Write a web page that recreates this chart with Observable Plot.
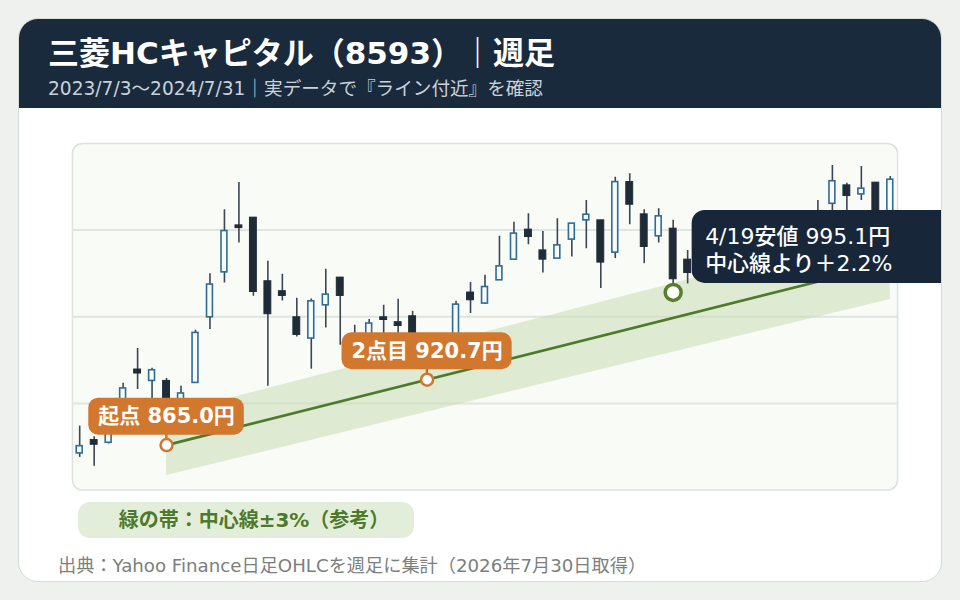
<!DOCTYPE html>
<html lang="ja">
<head>
<meta charset="utf-8">
<script src="https://cdn.jsdelivr.net/npm/d3@7"></script>
<script src="https://cdn.jsdelivr.net/npm/@observablehq/plot@0.6"></script>
<style>
  html, body { margin: 0; padding: 0; }
  body { width: 960px; height: 600px; background: #eef1ee; position: relative; overflow: hidden;
         font-family: "DejaVu Sans", "Noto Sans CJK JP", sans-serif; }
  #card { position: absolute; left: 18px; top: 18px; width: 924px; height: 564px; box-sizing: border-box;
          background: #fff; border: 1px solid #d5dbd6; border-radius: 20px; overflow: hidden; }
  #header { position: absolute; left: 0; top: 0; width: 100%; height: 89px; background: #1a2a3d; }
  #title { position: absolute; left: 29px; top: 16px; font-size: 31px; font-weight: 700; line-height: 36px; color: #fff; white-space: nowrap; }
  #subtitle { position: absolute; left: 29px; top: 60px; font-size: 18.6px; line-height: 20px; color: #c9d1da; white-space: nowrap; }
  #chart { position: absolute; left: 0; top: 89px; }
  #legend { position: absolute; left: 59px; top: 483px; width: 336px; height: 36px; border-radius: 12px; box-sizing: border-box; padding-left: 16px;
            background: #e3eeda; color: #4d7a2a; font-weight: 700; font-size: 20px; line-height: 36px; text-align: center; }
  #caption { position: absolute; left: 39px; top: 537px; font-size: 18.2px; line-height: 20px; color: #7b807d; white-space: nowrap; }
</style>
</head>
<body>
<div id="card">
  <div id="header">
    <div id="title">三菱HCキャピタル（8593）｜週足</div>
    <div id="subtitle">2023/7/3〜2024/7/31｜実データで『ライン付近』を確認</div>
  </div>
  <div id="chart"></div>
  <div id="legend">緑の帯：中心線±3%（参考）</div>
  <div id="caption">出典：Yahoo Finance日足OHLCを週足に集計（2026年7月30日取得）</div>
</div>
<script>
// ---- Data (weekly OHLC) ----
const weeks = [
  "2023-07-03","2023-07-10","2023-07-17","2023-07-24","2023-07-31","2023-08-07","2023-08-14","2023-08-21","2023-08-28","2023-09-04",
  "2023-09-11","2023-09-18","2023-09-25","2023-10-02","2023-10-09","2023-10-16","2023-10-23","2023-10-30","2023-11-06","2023-11-13",
  "2023-11-20","2023-11-27","2023-12-04","2023-12-11","2023-12-18","2023-12-25","2024-01-01","2024-01-08","2024-01-15","2024-01-22",
  "2024-01-29","2024-02-05","2024-02-12","2024-02-19","2024-02-26","2024-03-04","2024-03-11","2024-03-18","2024-03-25","2024-04-01",
  "2024-04-08","2024-04-15","2024-04-22","2024-04-29","2024-05-06","2024-05-13","2024-05-20","2024-05-27","2024-06-03","2024-06-10",
  "2024-06-17","2024-06-24","2024-07-01","2024-07-08","2024-07-15","2024-07-22","2024-07-29"
];
const opens = [
  857.9, 869.3, 867.0, 890.5, 929.4, 919.7, 919.7, 901.6, 918.0, 973.9,
  1012.2, 1052.2, 1058.8, 1004.6, 996.1, 973.9, 955.8, 984.1, 1007.7, 957.8,
  952.7, 973.9, 969.7, 974.8, 952.7, 939.0, 950.1, 995.0, 985.6, 1005.4,
  1023.0, 1048.6, 1030.9, 1023.9, 1040.1, 1056.5, 1056.5, 1029.0, 1089.1, 1061.6,
  1042.9, 1049.4, 1023.0, 1012.0, 1025.0, 1018.0, 1032.0, 1028.0, 1040.0, 1035.0,
  1046.0, 1042.0, 1070.6, 1086.3, 1078.6, 1088.6, 1052.0
];
const highs = [
  881.2, 872.1, 886.3, 917.8, 947.3, 930.5, 921.8, 915.2, 962.9, 1011.1,
  1065.6, 1088.8, 1058.8, 1021.6, 1010.5, 990.1, 989.5, 1014.8, 1007.7, 967.1,
  972.0, 984.1, 989.2, 979.0, 957.8, 957.8, 987.5, 1003.5, 1009.7, 1042.9,
  1054.8, 1062.2, 1046.9, 1057.9, 1053.9, 1073.5, 1056.5, 1093.3, 1096.2, 1065.6,
  1066.4, 1056.5, 1030.9, 1030.0, 1034.0, 1040.0, 1045.0, 1048.0, 1050.0, 1052.0,
  1054.0, 1073.5, 1103.3, 1088.0, 1102.4, 1088.6, 1093.9
];
const lows = [
  854.5, 847.1, 866.0, 886.3, 912.4, 903.3, 865.0, 896.5, 917.8, 963.5,
  1003.1, 1037.2, 991.8, 915.2, 987.8, 957.2, 929.7, 964.8, 950.1, 944.1,
  947.5, 957.8, 957.8, 949.2, 920.7, 933.1, 947.5, 977.1, 984.7, 1005.4,
  1022.4, 1035.8, 1011.6, 1023.9, 1025.2, 1032.4, 998.4, 1023.9, 1052.8, 1019.6,
  1037.2, 995.1, 1002.3, 1006.0, 1012.0, 1014.0, 1020.0, 1022.0, 1028.0, 1030.0,
  1036.0, 1038.0, 1060.0, 1062.0, 1073.5, 1045.0, 1048.0
];
const closes = [
  864.1, 865.3, 879.5, 913.3, 926.0, 928.8, 893.1, 909.0, 960.6, 1001.8,
  1047.4, 1049.9, 995.5, 976.5, 992.1, 958.9, 987.5, 993.2, 992.1, 952.7,
  968.6, 971.6, 966.5, 954.4, 937.3, 954.4, 984.7, 988.4, 999.7, 1017.3,
  1045.2, 1042.3, 1023.0, 1035.2, 1053.7, 1061.3, 1020.5, 1089.1, 1069.8, 1033.8,
  1059.9, 1006.3, 1011.6, 1025.0, 1018.0, 1032.0, 1028.0, 1040.0, 1035.0, 1046.0,
  1042.0, 1055.0, 1089.8, 1077.2, 1083.5, 1050.0, 1091.1
];

// Line anchors (two touch points) and the tested point
const anchorWeeks = ["2023-08-14", "2023-12-18"];
const anchorPrices = [865.0, 920.7];
const anchorLabels = ["起点 865.0円", "2点目 920.7円"];
const testWeek = "2024-04-15";
const testPrice = 995.1;
const testLines = ["4/19安値 995.1円", "中心線より＋2.2%"];
const bandPct = 0.03;
const lineEndWeek = "2024-07-29";

// Price-axis domain and (unlabelled) grid lines
const yDomain = [826.7, 1122.0];
const gridTicks = [900.5, 974.3, 1048.2];

// ---- Build tables ----
const candles = weeks.map((week, i) => ({week, open: opens[i], high: highs[i], low: lows[i], close: closes[i]}));
const upCandles = candles.filter(d => d.close >= d.open);
const downCandles = candles.filter(d => d.close < d.open);

const i0 = weeks.indexOf(anchorWeeks[0]);
const i1 = weeks.indexOf(anchorWeeks[1]);
const iEnd = weeks.indexOf(lineEndWeek);
const slope = (anchorPrices[1] - anchorPrices[0]) / (i1 - i0);
const centerAt = i => anchorPrices[0] + slope * (i - i0);
const trend = [i0, iEnd].map(i => ({week: weeks[i], center: centerAt(i), lo: centerAt(i) * (1 - bandPct), hi: centerAt(i) * (1 + bandPct)}));
const anchors = anchorWeeks.map((week, k) => ({week, price: anchorPrices[k], label: anchorLabels[k]}));
const testPoint = [{week: testWeek, price: testPrice}];

// ---- Styles ----
const FONT = "'DejaVu Sans', 'Noto Sans CJK JP', sans-serif";
const LABEL_SIZE = 21;
const TIP_SIZE = 22;
const ORANGE = "#d2772e";
const NAVY = "#172739";
const GREEN = "#4e7a2a";
const UP = "#2f6b98";
const DOWN = "#1f2c38";
const WICK = "#3a4652";
const PLOTBG = "#f9fbf6";

function textWidth(str, font) {
  const c = textWidth.c || (textWidth.c = document.createElement("canvas").getContext("2d"));
  c.font = font;
  return c.measureText(str).width;
}

function annotationBoxes(index, scales) {
  const xs = scales.x, ys = scales.y;
  const X = w => xs(w) + xs.bandwidth() / 2;
  const g = d3.create("svg:g");
  for (const a of anchors) {
    const cx = X(a.week), cy = ys(a.price);
    const w = textWidth(a.label, `700 ${LABEL_SIZE}px ${FONT}`) + 19;
    g.append("line").attr("x1", cx).attr("x2", cx).attr("y1", cy - 11).attr("y2", cy - 5)
      .attr("stroke", ORANGE).attr("stroke-width", 2);
    g.append("rect").attr("x", cx - w / 2).attr("y", cy - 47).attr("width", w).attr("height", 37)
      .attr("rx", 10).attr("fill", ORANGE);
  }
  const tx = X(testWeek), ty = ys(testPrice);
  g.append("rect").attr("x", tx + 19).attr("y", ty - 82).attr("width", 320).attr("height", 73)
    .attr("rx", 13).attr("fill", NAVY);
  return g.node();
}

const chart = Plot.plot({
  width: 923,
  height: 390,
  marginLeft: 53,
  marginRight: 44,
  marginTop: 35,
  marginBottom: 8,
  style: {fontFamily: FONT, background: "transparent", overflow: "visible"},
  x: {type: "band", domain: weeks, padding: 0, round: false, axis: null},
  y: {domain: yDomain, axis: null},
  marks: [
    Plot.frame({fill: PLOTBG, stroke: "#dce2dd", strokeWidth: 1.5, rx: 10}),
    Plot.ruleY(gridTicks, {stroke: "#dfe5e1", strokeWidth: 2}),
    Plot.areaY(trend, {x: "week", y1: "lo", y2: "hi", fill: "#c3dbad", fillOpacity: 0.5}),
    Plot.line(trend, {x: "week", y: "center", stroke: GREEN, strokeWidth: 2.6}),
    Plot.ruleX(candles, {x: "week", y1: "low", y2: "high", stroke: WICK, strokeWidth: 1.6}),
    Plot.barY(upCandles, {x: "week", y1: "open", y2: "close", fill: PLOTBG, stroke: UP, strokeWidth: 1.6, insetLeft: 4.3, insetRight: 4.3}),
    Plot.barY(downCandles, {x: "week", y1: "open", y2: "close", fill: DOWN, stroke: DOWN, strokeWidth: 1, insetLeft: 3.8, insetRight: 3.8}),
    annotationBoxes,
    Plot.text(anchors, {x: "week", y: "price", text: "label", dy: -28.5, fill: "#fff", fontSize: LABEL_SIZE, fontWeight: 700}),
    Plot.text(testPoint, {x: "week", y: "price", text: () => testLines[0], dx: 32, dy: -56, textAnchor: "start", fill: "#fff", fontSize: TIP_SIZE, fontWeight: 500}),
    Plot.text(testPoint, {x: "week", y: "price", text: () => testLines[1], dx: 32, dy: -28, textAnchor: "start", fill: "#fff", fontSize: TIP_SIZE, fontWeight: 500}),
    Plot.dot(anchors, {x: "week", y: "price", r: 6, fill: "#fff", stroke: ORANGE, strokeWidth: 2.5}),
    Plot.dot(testPoint, {x: "week", y: "price", r: 8, fill: "#fff", stroke: "#5a7f2c", strokeWidth: 3.5})
  ]
});
document.getElementById("chart").appendChild(chart);
</script>
</body>
</html>
